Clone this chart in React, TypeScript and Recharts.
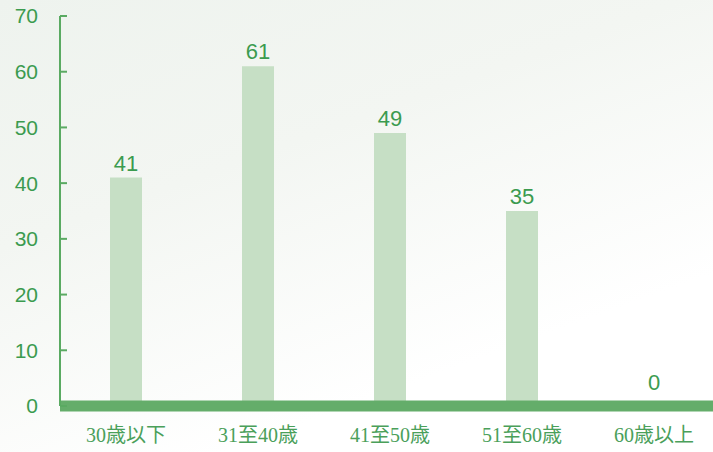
import { ComposedChart, Bar, Line, XAxis, YAxis, LabelList } from "recharts";

const categories = ["30歳以下", "31至40歳", "41至50歳", "51至60歳", "60歳以上"];
const counts = [41, 61, 49, 35, 0];
const yTicks = [0, 10, 20, 30, 40, 50, 60, 70];

const chartData = categories.map((name, i) => ({ name, value: counts[i] }));

// value above each bar; the empty one sits above the thick baseline
const ValueLabel = (props: any) => {
    const { x, y, value } = props;
    const lift = Number(value) === 0 ? 16 : 7;
    return (
        <text
            x={Number(x)}
            y={Number(y) - lift}
            textAnchor="middle"
            fill="#3b9b4f"
            fontSize={22}
            fontFamily="'Liberation Sans', Arial, sans-serif"
        >
            {String(value)}
        </text>
    );
};

export default function App() {
    return (
        <div
            style={{
                position: "absolute",
                left: 0,
                top: 0,
                width: 713,
                height: 452,
                overflow: "hidden",
                background: "linear-gradient(160deg, #eef3ee 0%, #f3f6f2 35%, #ffffff 75%)",
            }}
        >
            <ComposedChart
                width={720}
                height={452}
                data={chartData}
                margin={{ top: 16, right: 0, bottom: 0, left: 0 }}
                barSize={32}
            >
                <XAxis
                    dataKey="name"
                    height={46}
                    axisLine={{ stroke: "#64ad6a", strokeWidth: 11 }}
                    tickLine={false}
                    tickSize={0}
                    tickMargin={22}
                    interval={0}
                    tick={{ fill: "#4aa05a", fontSize: 20, fontFamily: "'Liberation Serif', 'Noto Sans CJK JP', serif" }}
                />
                <YAxis
                    width={60}
                    domain={[0, 70]}
                    ticks={yTicks}
                    interval={0}
                    axisLine={{ stroke: "#5aaa62", strokeWidth: 2 }}
                    tickLine={{ stroke: "#5aaa62", strokeWidth: 2 }}
                    tickSize={-7}
                    tickMargin={29}
                    tick={{ fill: "#3b9b4f", fontSize: 21, fontFamily: "'Liberation Sans', Arial, sans-serif" }}
                />
                <Bar dataKey="value" fill="#c6dfc5" isAnimationActive={false} />
                <Line
                    dataKey="value"
                    stroke="none"
                    dot={false}
                    activeDot={false}
                    legendType="none"
                    isAnimationActive={false}
                >
                    <LabelList dataKey="value" content={ValueLabel} />
                </Line>
            </ComposedChart>
        </div>
    );
}
